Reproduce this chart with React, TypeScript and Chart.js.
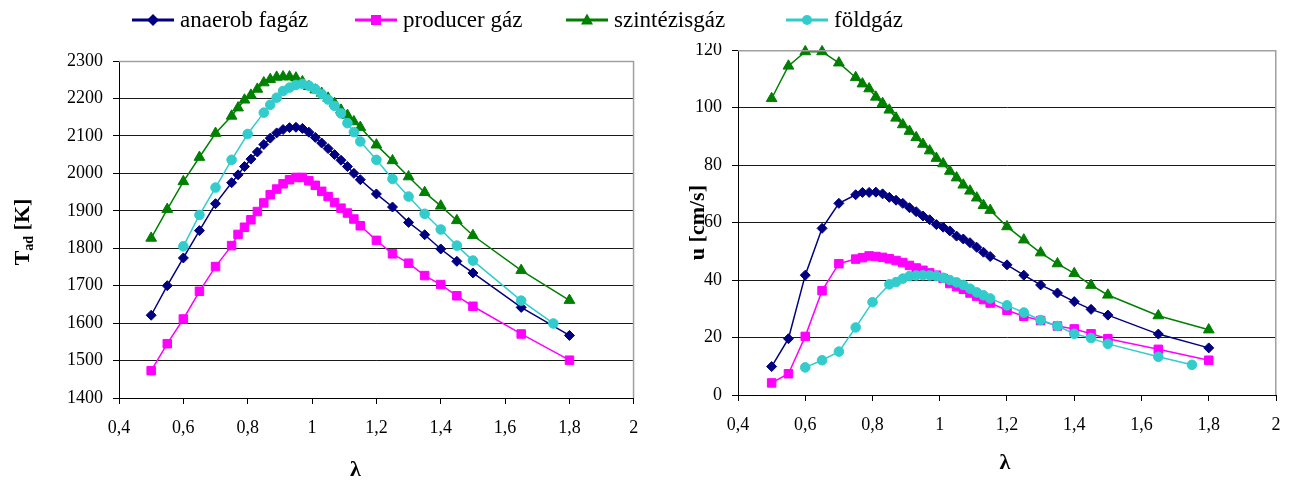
import React, { useEffect, useRef } from 'react';
import { Chart, registerables } from 'chart.js';

Chart.register(...registerables);

// ---------- DATA ----------
const SERIES_NAMES = ['anaerob fagáz', 'producer gáz', 'szintézisgáz', 'földgáz'];

// lambda values (first three series)
const X_MAIN = [0.5, 0.55, 0.6, 0.65, 0.7, 0.75, 0.77, 0.79, 0.81, 0.83, 0.85, 0.87, 0.89, 0.91, 0.93, 0.95, 0.97, 0.99, 1.01, 1.03, 1.05, 1.07, 1.09, 1.11, 1.13, 1.15, 1.2, 1.25, 1.3, 1.35, 1.4, 1.45, 1.5, 1.65, 1.8];
// lambda values (földgáz)
const X_FOLD = [0.6, 0.65, 0.7, 0.75, 0.8, 0.85, 0.87, 0.89, 0.91, 0.93, 0.95, 0.97, 0.99, 1.01, 1.03, 1.05, 1.07, 1.09, 1.11, 1.13, 1.15, 1.2, 1.25, 1.3, 1.35, 1.4, 1.45, 1.5, 1.65, 1.75];

// adiabatic flame temperature T_ad [K]
const T_ANAEROB = [1621, 1700, 1774, 1847, 1919, 1975, 1996, 2018, 2038, 2057, 2077, 2094, 2108, 2117, 2122, 2123, 2120, 2110, 2096, 2081, 2066, 2050, 2035, 2018, 2000, 1983, 1945, 1910, 1869, 1836, 1798, 1765, 1734, 1642, 1567];
const T_PRODUCER = [1473, 1545, 1611, 1685, 1751, 1807, 1837, 1856, 1876, 1898, 1921, 1943, 1958, 1972, 1983, 1989, 1989, 1980, 1968, 1952, 1938, 1922, 1907, 1894, 1878, 1860, 1821, 1785, 1760, 1727, 1703, 1673, 1645, 1571, 1501];
const T_SZINTEZIS = [1827, 1904, 1978, 2043, 2107, 2153, 2175, 2196, 2209, 2225, 2242, 2251, 2257, 2258, 2258, 2255, 2245, 2232, 2223, 2214, 2201, 2187, 2169, 2155, 2138, 2123, 2076, 2034, 1991, 1949, 1913, 1874, 1834, 1741, 1661];
const T_FOLDGAZ = [1805, 1889, 1962, 2036, 2105, 2162, 2183, 2202, 2220, 2229, 2236, 2239, 2234, 2225, 2212, 2197, 2180, 2160, 2134, 2110, 2085, 2036, 1985, 1938, 1892, 1850, 1807, 1767, 1660, 1599];

// laminar flame speed u [cm/s]
const U_ANAEROB = [9.9, 19.6, 41.7, 58, 66.7, 69.7, 70.5, 70.5, 70.6, 70, 68.8, 67.8, 66.7, 65.2, 63.8, 62.3, 61, 59.3, 58.4, 57.1, 55.3, 54.3, 53, 51.4, 49.7, 48.2, 45.3, 41.7, 38.3, 35.5, 32.5, 29.8, 27.8, 21.2, 16.4];
const U_PRODUCER = [4.2, 7.4, 20.4, 36.3, 45.7, 47.3, 47.8, 48.4, 48.2, 47.9, 47.4, 46.8, 46.1, 45.1, 44.2, 43.4, 42.5, 41.7, 40.6, 38.8, 37.7, 36.8, 35.5, 34.4, 33.2, 32, 29.5, 27.4, 25.9, 24, 23, 21.3, 19.6, 15.9, 12.1];
const U_SZINTEZIS = [103.2, 114.5, 119.5, 119.5, 115.6, 110.5, 108.3, 106.6, 103.7, 101.5, 99.2, 96.4, 94.1, 91.8, 89.6, 87.3, 85, 82.4, 80.5, 77.9, 75.6, 73.1, 71, 68.6, 66, 64.3, 58.6, 54, 49.5, 45.7, 42.3, 38.2, 34.8, 27.6, 22.7];
const U_FOLDGAZ = [9.6, 12.1, 15.1, 23.5, 32.3, 38.5, 39.3, 40.5, 41.4, 41.6, 41.7, 41.6, 41.4, 40.8, 40, 39.2, 38.3, 37, 35.7, 34.7, 33.6, 31.2, 28.7, 26.1, 24, 21.3, 19.8, 17.8, 13.3, 10.5];

// axes
const X_RANGE = [0.4, 2];
const X_STEP = 0.2;
const T_RANGE = [1400, 2300];
const T_STEP = 100;
const U_RANGE = [0, 120];
const U_STEP = 20;

const X_TITLE = 'λ';
const T_TITLE_PARTS = [{ text: 'T', sub: false }, { text: 'ad', sub: true }, { text: ' [K]', sub: false }];
const U_TITLE_PARTS = [{ text: 'u [cm/s]', sub: false }];

// ---------- STYLE ----------
const FONT = '"Liberation Serif", "Times New Roman", serif';
const COLORS = ['#000080', '#FF00FF', '#008000', '#33CCCC'];
const STYLES = ['rectRot', 'rect', 'triangle', 'circle'];
const RADII = [5, 6, 6.2, 4.8];

const fmt = (v: number) => {
  const r = Math.round(v * 10) / 10;
  return String(r).replace('.', ',');
};

function makeDatasets(ys: number[][], clip: boolean) {
  const xs = [X_MAIN, X_MAIN, X_MAIN, X_FOLD];
  return ys.map((arr, i) => ({
    label: SERIES_NAMES[i],
    data: arr.map((y, j) => ({ x: xs[i][j], y })),
    borderColor: COLORS[i],
    backgroundColor: COLORS[i],
    pointStyle: STYLES[i],
    pointRadius: RADII[i],
    pointHoverRadius: RADII[i],
    pointBorderWidth: 1,
    borderWidth: 1.5,
    tension: 0,
    order: 3 - i,
    clip: clip ? undefined : false,
  }));
}

function titlesPlugin(cfg: any) {
  return {
    id: 'axisTitles' + cfg.key,
    afterDraw(chart: any) {
      const { ctx, chartArea: a } = chart;
      ctx.save();
      ctx.fillStyle = '#000';
      // border (top, right) in gray
      ctx.strokeStyle = '#a0a0a0';
      ctx.lineWidth = 1.5;
      ctx.beginPath();
      ctx.moveTo(a.left, a.top + 0.5);
      ctx.lineTo(a.right - 0.25, a.top + 0.5);
      ctx.lineTo(a.right - 0.25, a.bottom);
      ctx.stroke();
      // x title
      ctx.font = `bold 22px ${FONT}`;
      ctx.textAlign = 'center';
      ctx.textBaseline = 'middle';
      ctx.fillText(X_TITLE, (a.left + a.right) / 2 + cfg.xDx, a.bottom + cfg.xDy);
      // y title rotated
      ctx.translate(cfg.yX, (a.top + a.bottom) / 2 + cfg.yDy);
      ctx.rotate(-Math.PI / 2);
      const big = `bold 22px ${FONT}`;
      const small = `bold 14px ${FONT}`;
      let total = 0;
      const widths = cfg.parts.map((p: any) => {
        ctx.font = p.sub ? small : big;
        const w = ctx.measureText(p.text).width;
        total += w;
        return w;
      });
      ctx.textAlign = 'left';
      ctx.textBaseline = 'alphabetic';
      let x = -total / 2;
      cfg.parts.forEach((p: any, i: number) => {
        ctx.font = p.sub ? small : big;
        ctx.fillText(p.text, x, p.sub ? 11 : 7);
        x += widths[i];
      });
      ctx.restore();
    },
  };
}

function makeOptions(o: any) {
  return {
    responsive: false,
    animation: false as const,
    devicePixelRatio: 1,
    events: [],
    layout: { padding: o.padding },
    plugins: { legend: { display: false }, tooltip: { enabled: false } },
    scales: {
      x: {
        type: 'linear' as const,
        min: X_RANGE[0],
        max: X_RANGE[1],
        ticks: {
          stepSize: X_STEP,
          callback: (v: any) => fmt(Number(v)),
          font: { family: FONT, size: 18 },
          color: '#000',
          padding: 13,
          maxRotation: 0,
          autoSkip: false,
        },
        grid: { drawOnChartArea: false, drawTicks: true, tickLength: 6, color: '#000', tickColor: '#000' },
        border: { color: '#000', width: 1 },
        afterFit: (s: any) => {
          s.height = o.xHeight;
          s.paddingLeft = 0;
          s.paddingRight = 0;
        },
      },
      y: {
        type: 'linear' as const,
        min: o.yRange[0],
        max: o.yRange[1],
        ticks: {
          stepSize: o.yStep,
          callback: (v: any) => String(Math.round(Number(v))),
          font: { family: FONT, size: 18 },
          color: '#000',
          padding: 10,
        },
        grid: {
          drawTicks: true,
          tickLength: 6,
          color: (c: any) => (c.tick && c.tick.value === o.yRange[1] ? '#a0a0a0' : '#1a1a1a'),
          tickColor: '#000',
          lineWidth: 1,
        },
        border: { color: '#000', width: 1 },
        afterFit: (s: any) => {
          s.width = o.yWidth;
          s.paddingTop = 0;
          s.paddingBottom = 0;
        },
      },
    },
  };
}

function LegendIcon({ i }: { i: number }) {
  const c = COLORS[i];
  let marker: React.ReactNode = null;
  if (i === 0) marker = <polygon points="21,4 27,10 21,16 15,10" fill={c} />;
  if (i === 1) marker = <rect x={16} y={5} width={10} height={10} fill={c} />;
  if (i === 2) marker = <polygon points="21,3.5 27,14.5 15,14.5" fill={c} />;
  if (i === 3) marker = <circle cx={21} cy={10} r={5} fill={c} />;
  return (
    <svg width={42} height={20} style={{ display: 'block' }}>
      <line x1={0} y1={10} x2={42} y2={10} stroke={c} strokeWidth={3} />
      {marker}
    </svg>
  );
}

const LEGEND_LEFT = [132, 355, 566, 786];

export default function App() {
  const leftRef = useRef<HTMLCanvasElement>(null);
  const rightRef = useRef<HTMLCanvasElement>(null);

  useEffect(() => {
    const left = new Chart(leftRef.current as HTMLCanvasElement, {
      type: 'line',
      data: { datasets: makeDatasets([T_ANAEROB, T_PRODUCER, T_SZINTEZIS, T_FOLDGAZ], true) as any },
      options: makeOptions({
        padding: { top: 61, left: 0, right: 3, bottom: 0 },
        xHeight: 84,
        yWidth: 119,
        yRange: T_RANGE,
        yStep: T_STEP,
      }) as any,
      plugins: [titlesPlugin({ key: 'L', xDx: -21, xDy: 72, yX: 22, yDy: 2.5, parts: T_TITLE_PARTS })],
    });
    const right = new Chart(rightRef.current as HTMLCanvasElement, {
      type: 'line',
      data: { datasets: makeDatasets([U_ANAEROB, U_PRODUCER, U_SZINTEZIS, U_FOLDGAZ], false) as any },
      options: makeOptions({
        padding: { top: 0, left: 0, right: 19, bottom: 0 },
        xHeight: 87,
        yWidth: 97,
        yRange: U_RANGE,
        yStep: U_STEP,
      }) as any,
      plugins: [titlesPlugin({ key: 'R', xDx: -2, xDy: 68.5, yX: 56, yDy: 0, parts: U_TITLE_PARTS })],
    });
    return () => {
      left.destroy();
      right.destroy();
    };
  }, []);

  return (
    <div style={{ position: 'absolute', left: 0, top: 0, width: 1295, height: 482, background: '#fff', overflow: 'hidden' }}>
      <canvas ref={leftRef} width={641} height={482} style={{ position: 'absolute', left: 0, top: 0 }} />
      <canvas ref={rightRef} width={654} height={439} style={{ position: 'absolute', left: 641, top: 43 }} />
      {SERIES_NAMES.map((name, i) => (
        <div key={name} style={{ position: 'absolute', left: LEGEND_LEFT[i], top: 10, height: 20, display: 'flex', alignItems: 'center' }}>
          <LegendIcon i={i} />
          <span style={{ marginLeft: 6, fontFamily: FONT, fontSize: 23, lineHeight: '20px', color: '#000', whiteSpace: 'nowrap', position: 'relative', top: 0 }}>{name}</span>
        </div>
      ))}
    </div>
  );
}
